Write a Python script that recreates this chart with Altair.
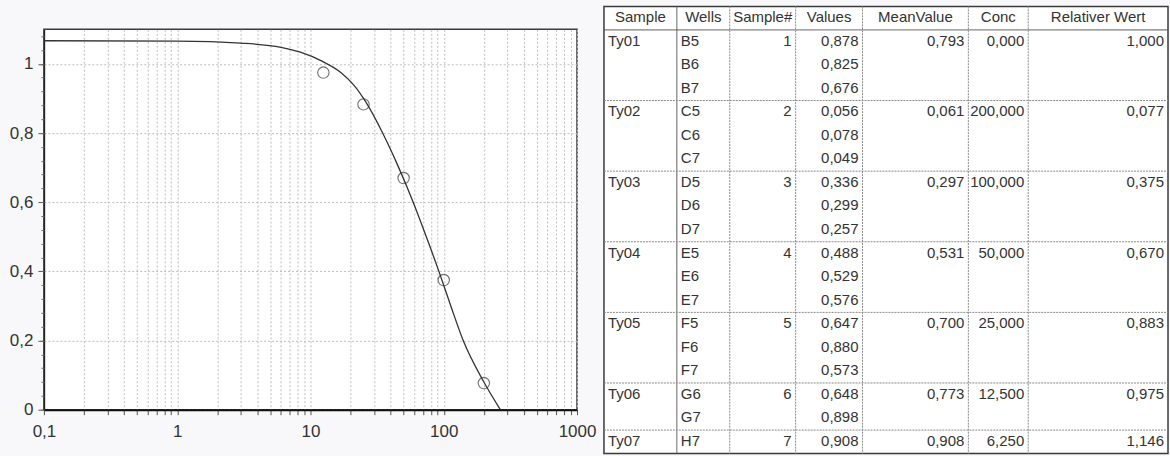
import altair as alt
import pandas as pd

# ---- measured samples ----
samples = ["Ty01", "Ty02", "Ty03", "Ty04", "Ty05", "Ty06", "Ty07"]
wells = [["B5", "B6", "B7"], ["C5", "C6", "C7"], ["D5", "D6", "D7"],
         ["E5", "E6", "E7"], ["F5", "F6", "F7"], ["G6", "G7"], ["H7"]]
values = [[0.878, 0.825, 0.676], [0.056, 0.078, 0.049], [0.336, 0.299, 0.257],
          [0.488, 0.529, 0.576], [0.647, 0.880, 0.573], [0.648, 0.898], [0.908]]
mean_values = [0.793, 0.061, 0.297, 0.531, 0.700, 0.773, 0.908]
conc = [0.0, 200.0, 100.0, 50.0, 25.0, 12.5, 6.25]
relative = [1.000, 0.077, 0.375, 0.670, 0.883, 0.975, 1.146]

# ---- fitted dose-response curve, sampled ----
curve_conc = [0.1, 1, 3, 6, 8.4, 12.2, 16.8, 21, 26, 34.8, 45, 59, 74, 92, 113, 140, 198, 266]
curve_rel = [1.067, 1.066, 1.060, 1.048, 1.034, 1.008, 0.976, 0.940, 0.89, 0.8, 0.708, 0.6,
             0.5, 0.4, 0.3, 0.2, 0.083, 0.0]

headers = ["Sample", "Wells", "Sample#", "Values", "MeanValue", "Conc", "Relativer Wert"]

# ---- layout / style ----
COL_WIDTHS = [73, 53, 66, 67, 106, 60, 140]
CELL_PAD = 4
AXIS_FONT = "Liberation Sans, Arial"
TABLE_FONT = "Liberation Sans, Arial"
INK = "#333333"
GRID = "#bdbdbd"


def de(v):
    return f"{v:.3f}".replace(".", ",")


edges = [0]
for w in COL_WIDTHS:
    edges.append(edges[-1] + w)
TOTAL_W = edges[-1]

# ---- table cells ----
cells = []
for c, h in enumerate(headers):
    cells.append({"row": 0, "col": c, "text": h, "align": "center"})
row = 1
group_ends = []
for g, name in enumerate(samples):
    for i, well in enumerate(wells[g]):
        first = i == 0
        row_cells = [
            name if first else "",
            well,
            str(g + 1) if first else "",
            de(values[g][i]),
            de(mean_values[g]) if first else "",
            de(conc[g]) if first else "",
            de(relative[g]) if first else "",
        ]
        for c, t in enumerate(row_cells):
            if t:
                cells.append({"row": row, "col": c, "text": t,
                              "align": "left" if c < 2 else "right"})
        row += 1
    group_ends.append(row)
N_ROWS = row

cells_df = pd.DataFrame(cells)
cells_df["y"] = cells_df["row"] + 0.5


def cell_x(r):
    if r["align"] == "left":
        return edges[r["col"]] + CELL_PAD
    if r["align"] == "right":
        return edges[r["col"] + 1] - CELL_PAD
    return (edges[r["col"]] + edges[r["col"] + 1]) / 2


cells_df["x"] = cells_df.apply(cell_x, axis=1)

x_tab = alt.Scale(domain=[0, TOTAL_W], nice=False, zero=False)
y_tab = alt.Scale(domain=[0, N_ROWS], nice=False, reverse=True)
tx = alt.X("x:Q", scale=x_tab, axis=None)
ty = alt.Y("y:Q", scale=y_tab, axis=None)

text_layers = []
for a in ["left", "right", "center"]:
    text_layers.append(
        alt.Chart(cells_df[cells_df["align"] == a])
        .mark_text(align=a, baseline="middle", dy=-1, font=TABLE_FONT, fontSize=15, color=INK)
        .encode(x=tx, y=ty, text="text:N")
    )

hlines = pd.DataFrame({"y": [1] + group_ends[:-1],
                       "kind": ["solid"] + ["dotted"] * (len(group_ends) - 1)})
hlines["x"] = 0
hlines["x2"] = TOTAL_W
vlines = pd.DataFrame({"x": edges[1:-1],
                       "kind": ["solid"] + ["dotted"] * (len(edges) - 3)})
vlines["y"] = 0
vlines["y2"] = N_ROWS

rule_layers = []
for kind, dash, col in [("solid", [1, 0], "#555555"), ("dotted", [2, 1], "#8a8a8a")]:
    rule_layers.append(
        alt.Chart(hlines[hlines["kind"] == kind])
        .mark_rule(strokeDash=dash, color=col, strokeWidth=1)
        .encode(x=tx, x2="x2:Q", y=ty)
    )
    rule_layers.append(
        alt.Chart(vlines[vlines["kind"] == kind])
        .mark_rule(strokeDash=dash, color=col, strokeWidth=1)
        .encode(x=tx, y=ty, y2="y2:Q")
    )

table = alt.layer(*rule_layers, *text_layers).properties(width=TOTAL_W, height=448)

# ---- dose-response plot ----
points_df = pd.DataFrame({"conc": conc, "rel": relative})
points_df = points_df[points_df["conc"] > 0]
curve_df = pd.DataFrame({"conc": curve_conc, "rel": curve_rel})

x_ticks = [m * 10.0 ** e for e in range(-1, 3) for m in range(1, 10)] + [1000.0]
x_ticks = [float(f"{v:.6g}") for v in x_ticks]

x_axis = alt.Axis(
    values=x_ticks, grid=True, gridColor=GRID, gridDash=[2, 2], gridWidth=1,
    tickSize=5, tickColor="#555555", domainColor="#111111", domainWidth=2,
    labelFont=AXIS_FONT, labelFontSize=17, labelColor=INK, labelPadding=9,
    labelOverlap=False, labelFlush=False, title=None,
    labelExpr="abs(log(datum.value)/LN10 - round(log(datum.value)/LN10)) < 0.001 ? "
              "(datum.value < 1 ? replace(format(datum.value, '.1f'), '.', ',') : format(datum.value, 'd')) : ''",
)
x_enc = alt.X("conc:Q", scale=alt.Scale(type="log", domain=[0.1, 1000], nice=False), axis=x_axis)
y_scale = alt.Scale(domain=[0, 1.1], nice=False, zero=False)

y_major = alt.Axis(
    values=[0, 0.2, 0.4, 0.6, 0.8, 1.0], grid=True, gridColor=GRID, gridDash=[2, 2],
    tickSize=6, tickColor="#555555", domainColor="#222222", domainWidth=1.5,
    labelFont=AXIS_FONT, labelFontSize=17, labelColor=INK, labelPadding=5,
    labelExpr="replace(format(datum.value, '.1~f'), '.', ',')", title=None, orient="left",
)
y_minor = alt.Axis(
    values=[round(i * 0.04, 2) for i in range(28)], grid=False, labels=False,
    tickSize=3, tickColor="#666666", domain=False, title=None, orient="left",
)

curve = alt.Chart(curve_df).mark_line(
    color=INK, strokeWidth=1.3, interpolate="monotone", clip=True
).encode(x=x_enc, y=alt.Y("rel:Q", scale=y_scale, axis=y_major))

points = alt.Chart(points_df).mark_point(
    shape="circle", filled=False, size=130, color=INK, strokeWidth=1.1, clip=True
).encode(x=x_enc, y=alt.Y("rel:Q", scale=y_scale, axis=y_minor))

plot = (
    alt.layer(curve, points)
    .resolve_axis(y="independent")
    .properties(width=534, height=381)
)

# empty band above the plot so its frame starts lower than the table
spacer = (
    alt.Chart(pd.DataFrame({"v": [0]}))
    .mark_point(opacity=0, size=1)
    .encode(x=alt.value(100), y=alt.value(10))
    .properties(width=534, height=21,
                view=alt.ViewBackground(stroke="transparent", fill="transparent"))
)

left = alt.vconcat(spacer, plot, spacing=0)

chart = (
    alt.hconcat(left, table, spacing=5)
    .properties(padding={"left": 8, "top": 4, "right": 0, "bottom": 0})
    .configure(background="#f8f8fa")
    .configure_view(stroke="#3a3a3a", strokeWidth=1.5, fill="#ffffff")
)

chart.save("out.html", embed_options={"renderer": "svg", "actions": False})
